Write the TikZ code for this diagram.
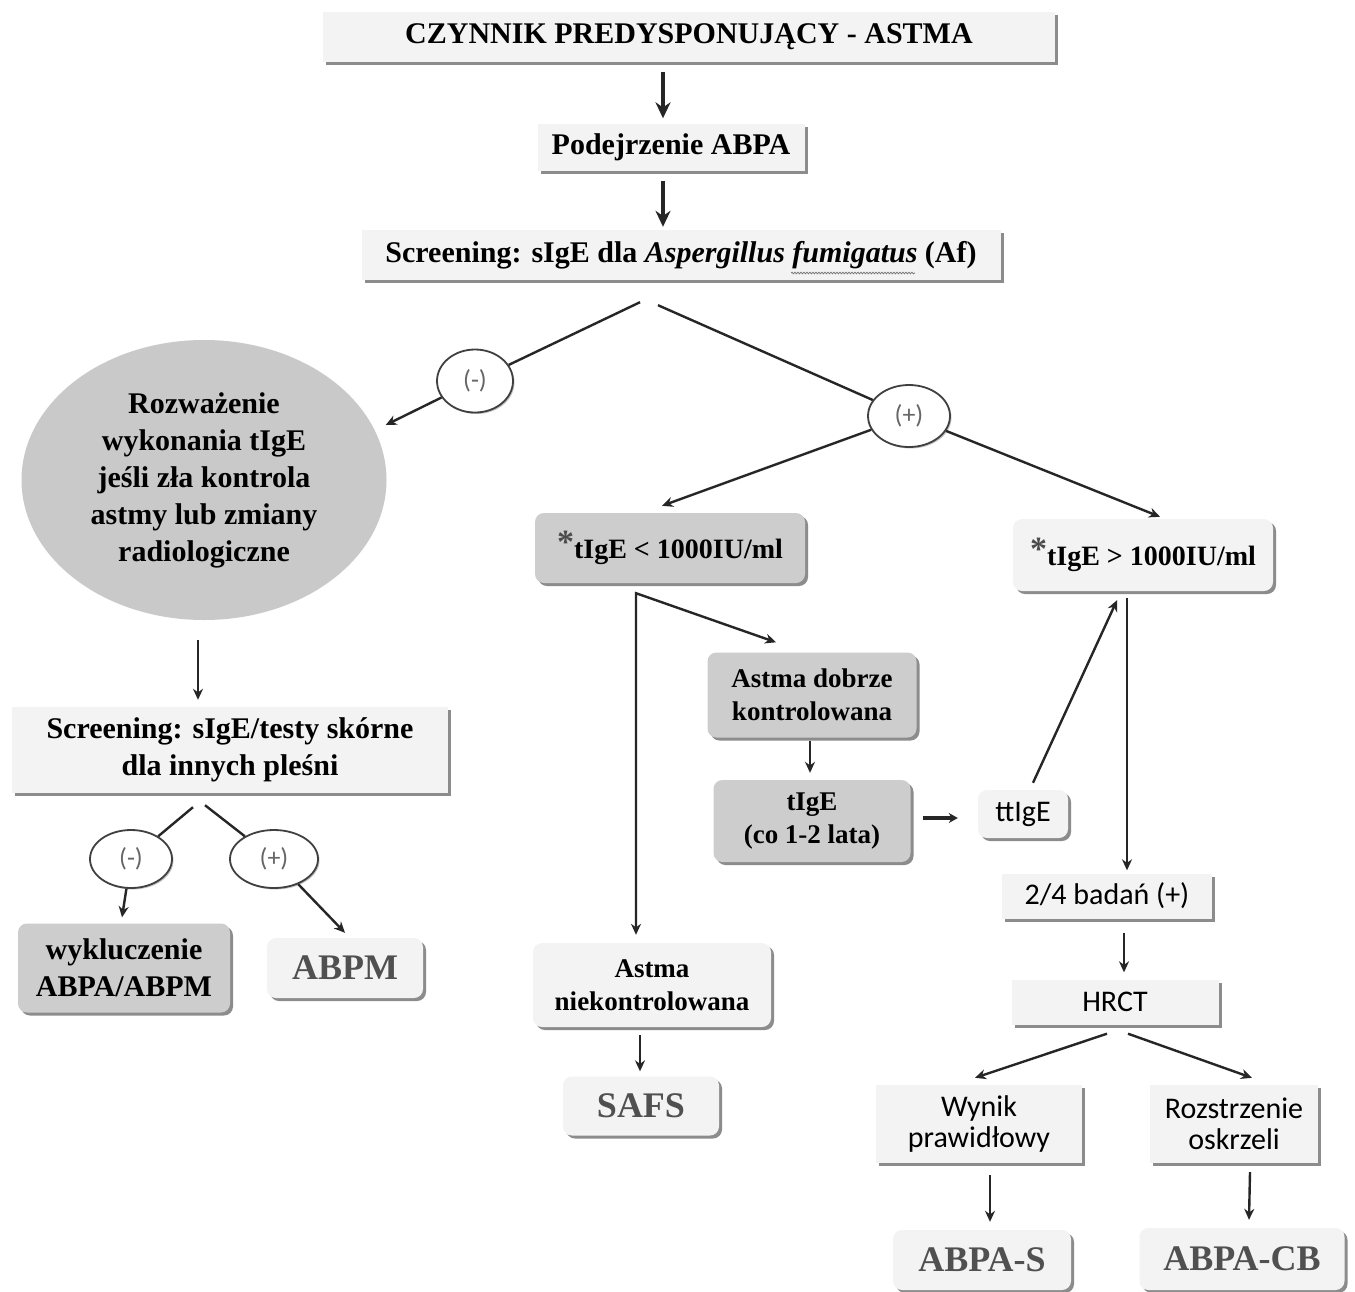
\documentclass[tikz,border=0pt]{standalone}
\usepackage{fontspec}
\setmainfont{Liberation Serif}
\newfontfamily\calib{Carlito}
\usetikzlibrary{shapes.geometric,shadows,calc,arrows.meta,decorations.pathmorphing}
\definecolor{boxlight}{HTML}{F3F3F3}
\definecolor{boxgray}{HTML}{CDCDCD}
\definecolor{ellgray}{HTML}{C9C9C9}
\definecolor{txtgray}{HTML}{505050}
\tikzset{
 base/.style={inner sep=0pt, align=center, font=\bfseries\fontsize{30}{37}\selectfont,
   drop shadow={shadow xshift=3pt, shadow yshift=-3pt, fill=black!60, opacity=0.75}},
 lightbox/.style={base, rectangle, fill=boxlight},
 lightround/.style={lightbox, rounded corners=9pt},
 grayround/.style={base, rectangle, rounded corners=9pt, fill=boxgray},
 sz/.style 2 args={minimum width=#1pt, minimum height=#2pt},
 sansfont/.style={font=\calib\fontsize{30}{31}\selectfont},
 midfont/.style={font=\bfseries\fontsize{27}{33}\selectfont},
 bigfont/.style={font=\bfseries\fontsize{36}{36}\selectfont, text=txtgray},
 sign/.style={ellipse, fill=white, draw=black!75, line width=1.8pt,
   font=\calib\fontsize{26}{26}\selectfont, text=black!60, inner sep=0pt,
   drop shadow={shadow xshift=1.5pt, shadow yshift=-1.5pt, fill=black!40, opacity=0.6}},
 arr/.style={draw=black!85, line width=2.4pt, -{Stealth[length=11pt,width=10pt]}},
 bigarr/.style={draw=black!85, line width=4.5pt, -{Stealth[length=16pt,width=15pt]}},
 plainline/.style={draw=black!85, line width=2.4pt},
}
\newcommand{\bigast}{\raisebox{5pt}{\fontsize{34}{34}\selectfont\textcolor{black!70}{*}}}
\begin{document}
\begin{tikzpicture}[x=1pt,y=-1pt]
\fill[white] (0,0) rectangle (1355,1291);
\useasboundingbox (0,0) rectangle (1355,1291);

% nodes
\node[lightbox, sz={732}{50}] (top) at (689,37) {CZYNNIK PREDYSPONUJĄCY - ASTMA};
\node[lightbox, sz={267}{47}] (pod) at (671,147) {Podejrzenie ABPA};
\node[lightbox, sz={639}{50}] (scr) at (681,255) {Screening: sIgE dla \textit{Aspergillus fumigatus} (Af)};
\node[sign, sz={76}{63}] (cm1) at (475,381) {(-)};
\node[sign, sz={82}{62}] (cp1) at (909,416) {(+)};
\node[ellipse, fill=ellgray, sz={365}{280}, align=center, inner sep=0pt,
      font=\bfseries\fontsize{30}{37}\selectfont] (ell) at (204,480)
      {Rozważenie\\wykonania tIgE\\jeśli zła kontrola\\astmy lub zmiany\\radiologiczne};
\node[lightbox, sz={436}{86}] (scr2) at (230,750) {Screening: sIgE/testy skórne\\dla innych pleśni};
\node[sign, sz={82}{58}] (cm2) at (131,859) {(-)};
\node[sign, sz={88}{58}] (cp2) at (274,859) {(+)};
\node[grayround, sz={212}{89}] (wyk) at (124,968) {wykluczenie\\ABPA/ABPM};
\node[lightround, sz={156}{60}, bigfont] (abpm) at (345,968) {ABPM};
\node[grayround, sz={270}{70}, font=\bfseries\fontsize{28}{28}\selectfont] (lt) at (670,548) {\bigast tIgE < 1000IU/ml};
\node[lightround, sz={260}{72}, font=\bfseries\fontsize{28}{28}\selectfont] (gt) at (1143,555) {\bigast tIgE > 1000IU/ml};
\node[grayround, sz={209}{85}, midfont] (adk) at (812,695) {Astma dobrze\\kontrolowana};
\node[grayround, sz={197}{82}, midfont] (tig) at (812,821) {tIgE\\(co 1-2 lata)};
\node[lightround, sz={90}{48}, sansfont] (ttig) at (1023,814) {ttIgE};
\node[lightbox, sz={210}{45}, sansfont] (b24) at (1107,896) {2/4 badań (+)};
\node[lightbox, sz={207}{45}, sansfont] (hrct) at (1115,1002) {HRCT};
\node[lightbox, sz={206}{78}, sansfont] (wyn) at (979,1124) {Wynik\\prawidłowy};
\node[lightbox, sz={168}{78}, sansfont] (roz) at (1234,1124) {Rozstrzenie\\oskrzeli};
\node[lightround, sz={178}{60}, bigfont] (abpas) at (982,1260) {ABPA-S};
\node[lightround, sz={205}{62}, bigfont] (abpacb) at (1242,1259) {ABPA-CB};
\node[lightround, sz={238}{84}, midfont] (ank) at (652,985) {Astma\\niekontrolowana};
\node[lightround, sz={156}{59}, bigfont] (safs) at (641,1106) {SAFS};

% spell-check wavy underline under "fumigatus"
\draw[black!55, line width=0.7pt, decorate, decoration={snake, amplitude=0.9pt, segment length=3pt}]
  ($(scr.center)+(110,18)$) -- ($(scr.center)+(234,18)$);

% connectors
\draw[bigarr] ($(top.south)+(-26,10)$) -- ($(pod.north)+(-8,-5)$);
\draw[bigarr] ($(pod.south)+(-8,10)$) -- ($(scr.north)+(-18,-3)$);

\draw[plainline] ($(scr.south)+(-41,22)$) -- (cm1);
\draw[arr] (cm1) -- ($(ell.east)+(-1,-55)$);
\draw[plainline] ($(scr.south)+(-23,25)$) -- (cp1);
\draw[arr] (cp1) -- ($(lt.north)+(-8,-7)$);
\draw[arr] (cp1) -- ($(gt.north)+(17,-2)$);

\draw[arr] ($(ell.south)+(-6,20)$) -- ($(scr2.north)+(-32,-7)$);
\draw[plainline] ($(scr2.south)+(-37,14)$) -- (cm2);
\draw[arr] (cm2) -- ($(wyk.north)+(-2,-6)$);
\draw[plainline] ($(scr2.south)+(-25,12)$) -- (cp2);
\draw[arr] (cp2) -- ($(abpm.north)+(0,-5)$);

\coordinate (v) at ($(lt.south)+(-34,10)$);
\draw[plainline, {Stealth[length=11pt,width=10pt]}-{Stealth[length=11pt,width=10pt]}]
  ($(ank.north)+(-16,-8)$) -- (v) -- ($(adk.north)+(-36,-10)$);
\draw[arr] ($(adk.south)+(-2,3)$) -- ($(tig.north)+(-2,-7)$);
\draw[draw=black!85, line width=3.5pt, -{Stealth[length=9pt,width=10pt]}] ($(tig.east)+(12,-3)$) -- ($(ttig.west)+(-20,4)$);
\draw[arr] ($(ttig.north)+(10,-7)$) -- ($(gt.south)+(-26,9)$);
\draw[arr] ($(gt.south)+(-16,7)$) -- ($(b24.north)+(20,-3)$);
\draw[arr] ($(b24.south)+(17,14)$) -- ($(hrct.north)+(9,-7)$);
\draw[arr] ($(hrct.south)+(-8,9)$) -- ($(wyn.north)+(-4,-7)$);
\draw[arr] ($(hrct.south)+(13,9)$) -- ($(roz.north)+(18,-7)$);
\draw[arr] ($(wyn.south)+(11,12)$) -- ($(abpas.north)+(8,-8)$);
\draw[arr] ($(roz.south)+(16,9)$) -- ($(abpacb.north)+(7,-8)$);
\draw[arr] ($(ank.south)+(-12,8)$) -- ($(safs.north)+(-1,-5)$);
\end{tikzpicture}
\end{document}
